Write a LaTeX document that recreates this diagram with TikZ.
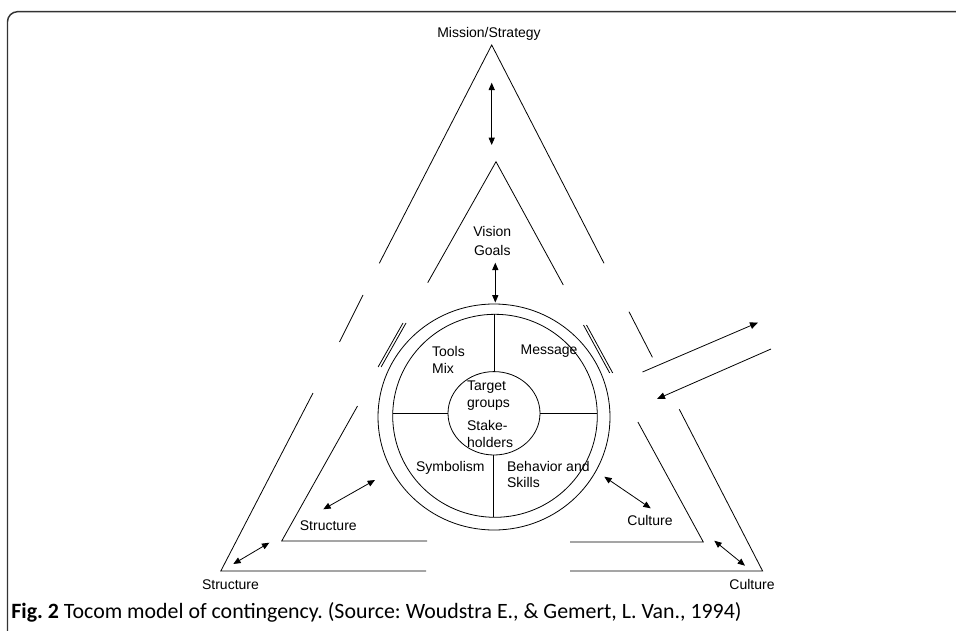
\documentclass[tikz,border=0pt]{standalone}
\usepackage{fontspec}
\setmainfont{Liberation Sans}
\newfontfamily\capfont{Carlito}
\usetikzlibrary{arrows.meta}
\frenchspacing
\begin{document}
\begin{tikzpicture}[x=0.75pt,y=-0.75pt,line width=0.6pt,
  lbl/.style={font=\fontsize{10.5}{12.75}\selectfont, inner sep=0pt},
  dbl/.style={{Triangle[length=5.5pt,width=4.6pt]}-{Triangle[length=5.5pt,width=4.6pt]}},
  sgl/.style={-{Triangle[length=6pt,width=5pt]}},
  frame/.style={line width=1.1pt, draw=black!80, rounded corners=7.5pt}]
\useasboundingbox (0,0) rectangle (956,631);
% frame
\draw[frame] (7.5,640) -- (7.5,11.7) -- (970,11.7);
% outer triangle (with gaps)
\coordinate (OT) at (491.7,45);
\coordinate (OL) at (220.8,571);
\coordinate (OR) at (762.6,571);
\draw (379.3,263.3) -- (OT) -- (604,263.3);
\draw (363,295) -- (339.5,342);
\draw (313,393) -- (OL) -- (426,571);
\draw (629,311.7) -- (652.4,357.3);
\draw (679.3,409.3) -- (OR) -- (570,571);
% middle triangle (with gaps)
\coordinate (MT) at (496,161.7);
\coordinate (ML) at (281.7,541);
\coordinate (MR) at (703.3,542);
\draw (427.7,282.7) -- (MT) -- (563.3,285);
\draw (406,323) -- (381.1,367);
\draw (403,323) -- (378.1,367);
\draw (357.5,406) -- (ML) -- (427,541);
\draw (583.5,325) -- (609.7,373);
\draw (586.5,325) -- (612.7,373);
\draw (637.9,422) -- (MR) -- (570,542);
% wheel
\draw (494,417) ellipse [x radius=116, y radius=113];
\draw (495,415.8) ellipse [x radius=102.3, y radius=101.5];
\draw (494,413.3) ellipse [x radius=46, y radius=41.7];
\draw (494.3,314.3) -- (494.3,371.7);
\draw (493,455) -- (493,517.3);
\draw (392.7,413.3) -- (448,413.3);
\draw (540,413.3) -- (597.3,413.3);
% labels
\node[lbl] (mission) at (489,34) {Mission/Strategy};
\node[lbl, align=center, font=\fontsize{10.5}{14.25}\selectfont] (vision) at (492.3,241) {Vision\\Goals};
\node[lbl, align=left, anchor=west] (tools) at (431.7,359.5) {Tools\\Mix};
\node[lbl] (message) at (549,351) {Message};
\node[lbl, align=left, anchor=west] (target) at (466.7,395.7) {Target\\groups};
\node[lbl, align=left, anchor=west] (stake) at (466.7,433.6) {Stake-\\holders};
\node[lbl] (symb) at (450.3,468.3) {Symbolism};
\node[lbl, align=left, anchor=west, font=\fontsize{10.5}{12}\selectfont] (behav) at (506.7,474.5) {Behavior and\\Skills};
\node[lbl] (structin) at (328.3,526) {Structure};
\node[lbl] (structout) at (230.5,584.3) {Structure};
\node[lbl] (cultin) at (650,520.7) {Culture};
\node[lbl] (cultout) at (752,584.3) {Culture};
% arrows
\coordinate (a1s) at (491.7,82.7);  \coordinate (a1e) at (491.7,145);
\coordinate (a2s) at (495.3,262.7); \coordinate (a2e) at (495.3,302.5);
\coordinate (a3s) at (323.3,509.3); \coordinate (a3e) at (375,480);
\coordinate (a4s) at (233.3,564);   \coordinate (a4e) at (269.3,542.7);
\coordinate (a5s) at (604.3,476.7); \coordinate (a5e) at (650.7,508.3);
\coordinate (a6s) at (714.3,540.7); \coordinate (a6e) at (745,565.7);
\coordinate (outs) at (642.5,372);  \coordinate (oute) at (758,322.5);
\coordinate (ins) at (771,349);     \coordinate (ine) at (657,399);
\draw[dbl] (a1s) -- (a1e);
\draw[dbl] (a2s) -- (a2e);
\draw[dbl] (a3s) -- (a3e);
\draw[dbl] (a4s) -- (a4e);
\draw[dbl] (a5s) -- (a5e);
\draw[dbl] (a6s) -- (a6e);
\draw[sgl] (outs) -- (oute);
\draw[sgl] (ins) -- (ine);
% caption
\node[anchor=west, inner sep=0pt, font=\capfont\fontsize{16.4}{18}\selectfont] (cap) at (11,612)
  {\textbf{Fig. 2} Tocom model of contingency. (Source: Woudstra E., \& Gemert, L. Van., 1994)};
\end{tikzpicture}
\end{document}
